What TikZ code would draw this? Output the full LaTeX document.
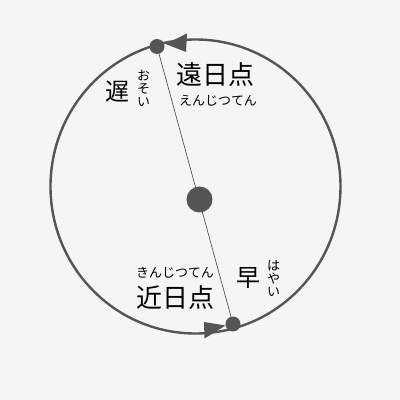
\documentclass[tikz,border=0pt]{standalone}
\usepackage{fontspec}
\newfontfamily\jpfont{Noto Sans CJK JP}
\definecolor{orbit}{HTML}{555555}
\definecolor{paper}{HTML}{F5F5F5}
\begin{document}
\begin{tikzpicture}[x=1pt,y=1pt,line join=round,line cap=round,
	dot/.style={circle,fill=orbit,inner sep=0pt,minimum size=#1},
	big/.style={font=\jpfont\fontsize{26}{26}\selectfont,inner sep=0pt},
	kana/.style={font=\jpfont\fontsize{13}{13}\selectfont,inner sep=0pt,align=center}]
			\fill[paper] (0,0) rectangle (400,400);
			\coordinate (C) at (195.5,213.5);
			\draw[line width=2.4pt,orbit] (C) ellipse[x radius=145,y radius=147];
			\fill[orbit] (165.5,356) -- (187,366.5) -- (186,348) -- cycle;
			\fill[orbit] (225.5,74.5) -- (204,78) -- (204.5,61.5) -- cycle;
			\coordinate (a) at (157,353.5);
			\coordinate (p) at (233,76);
			\draw[line width=0.7pt,orbit] (a)--(p);
			\node[dot=26pt] (sun) at (199.5,200.5) {};
			\node[dot=15pt] (aph) at (a) {};
			\node[dot=15pt] (per) at (p) {};
			\node[big] (enjitsu) at (215,325) {遠日点};
			\node[kana] (enjitsuyomi) at (218,299.5) {えんじつてん};
			\node[big,font=\jpfont\fontsize{24}{24}\selectfont] (osoi) at (117.5,308) {遅};
			\node[kana] (osoiyomi) at (143.5,312) {お\\そ\\い};
			\node[kana] (kinjitsuyomi) at (175,127) {きんじつてん};
			\node[big] (kinjitsu) at (175,102) {近日点};
			\node[big,font=\jpfont\fontsize{24}{24}\selectfont] (hayai) at (248,122.5) {早};
			\node[kana] (hayaiyomi) at (273.5,121) {は\\や\\い};
			\end{tikzpicture}
\end{document}
